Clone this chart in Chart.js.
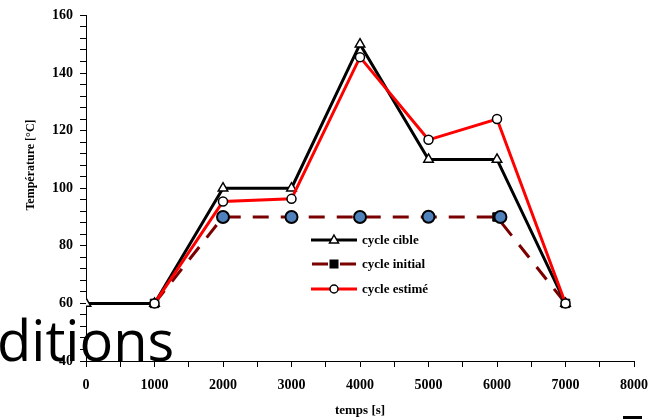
<!DOCTYPE html>
<html>
<head>
<meta charset="utf-8">
<script src="https://cdn.jsdelivr.net/npm/chart.js@4.4.0/dist/chart.umd.min.js"></script>
<style>
  html, body { margin: 0; padding: 0; background: #fff; overflow: hidden; }
  #wrap { position: relative; width: 658px; height: 419px; }
  #overlay { position: absolute; left: -3px; top: 311px; font-family: "Open Sans", sans-serif; font-size: 56px; color: #000; line-height: 1; pointer-events: none; }
  #mark { position: absolute; left: 623px; top: 416px; width: 19px; height: 3px; background: #000; }
</style>
</head>
<body>
<div id="wrap">
  <canvas id="chart" width="658" height="419"></canvas>
  <div id="overlay">ditions</div>
  <div id="mark"></div>
</div>
<script>
// temps [s] for each point of the cycle
const timeCible = [0, 1000, 2000, 3000, 4000, 5000, 6000, 7000];
const tempCible = [60, 60, 100, 100, 150, 110, 110, 60];

const timeInitial = [1000, 2000, 3000, 4000, 5000, 6000, 7000];
const tempInitial = [60, 90, 90, 90, 90, 90, 60];

const timeEstime = [1000, 2000, 3000, 4000, 5000, 6000, 7000];
const tempEstime = [60, 95.4, 96.3, 145.5, 116.8, 124, 60];

// blue dots sitting on the initial cycle plateau
const timeDots = [2000, 3000, 4000, 5000, 6050];
const tempDots = [90, 90, 90, 90.1, 90];

const xTicks = [0, 1000, 2000, 3000, 4000, 5000, 6000, 7000, 8000];
const yTicks = [40, 60, 80, 100, 120, 140, 160];

const legendItems = ['cycle cible', 'cycle initial', 'cycle estimé'];

const pts = (xs, ys) => xs.map((x, i) => ({ x: x, y: ys[i] }));

const serifBold = { family: '"Liberation Serif", "Times New Roman", serif', weight: 'bold', size: 14 };

// legend + axis titles drawn by hand, like the original figure
const extras = {
  id: 'extras',
  afterDraw(chart) {
    const ctx = chart.ctx;
    ctx.save();
    ctx.fillStyle = '#000';
    ctx.font = 'bold 13px "Liberation Serif", serif';
    ctx.textAlign = 'center';
    ctx.textBaseline = 'middle';
    ctx.fillText('temps [s]', 360, 411);
    ctx.translate(31, 165);
    ctx.rotate(-Math.PI / 2);
    ctx.font = 'bold 12px "Liberation Serif", serif';
    ctx.fillText('Température [°C]', 0, 0);
    ctx.restore();

    // legend
    const rows = [240, 264, 289];
    const x0 = 311, x1 = 357;
    ctx.save();
    rows.forEach((y, i) => {
      ctx.beginPath();
      ctx.lineWidth = 3;
      if (i === 0) { ctx.strokeStyle = '#000'; ctx.setLineDash([]); }
      if (i === 1) { ctx.strokeStyle = '#7a0000'; ctx.setLineDash([16, 12]); ctx.lineDashOffset = -1; }
      if (i === 2) { ctx.strokeStyle = '#ff0000'; ctx.setLineDash([]); }
      ctx.moveTo(x0, y);
      ctx.lineTo(x1, y);
      ctx.stroke();
      ctx.setLineDash([]);
      const cx = (x0 + x1) / 2;
      if (i === 0) {
        ctx.beginPath();
        ctx.moveTo(cx, y - 5);
        ctx.lineTo(cx + 4.5, y + 3);
        ctx.lineTo(cx - 4.5, y + 3);
        ctx.closePath();
        ctx.fillStyle = '#fff';
        ctx.fill();
        ctx.lineWidth = 1.5;
        ctx.strokeStyle = '#000';
        ctx.stroke();
      } else if (i === 1) {
        ctx.fillStyle = '#000';
        ctx.fillRect(cx - 4.5, y - 4.5, 9, 9);
      } else {
        ctx.beginPath();
        ctx.arc(cx, y, 4, 0, Math.PI * 2);
        ctx.fillStyle = '#fff';
        ctx.fill();
        ctx.lineWidth = 1.5;
        ctx.strokeStyle = '#000';
        ctx.stroke();
      }
      ctx.fillStyle = '#000';
      ctx.font = 'bold 13px "Liberation Serif", serif';
      ctx.textAlign = 'left';
      ctx.textBaseline = 'middle';
      ctx.fillText(legendItems[i], 362, y + 1);
    });
    ctx.restore();
  }
};

const ctx = document.getElementById('chart').getContext('2d');
new Chart(ctx, {
  type: 'line',
  data: {
    datasets: [
      {
        label: 'points',
        data: pts(timeDots, tempDots),
        showLine: false,
        pointRadius: 6,
        pointBackgroundColor: '#4f81bd',
        pointBorderColor: '#000',
        pointBorderWidth: 2,
        order: 0
      },
      {
        label: legendItems[2],
        data: pts(timeEstime, tempEstime),
        borderColor: '#ff0000',
        borderWidth: 3,
        pointRadius: 4.5,
        pointStyle: 'circle',
        pointBackgroundColor: '#fff',
        pointBorderColor: '#000',
        pointBorderWidth: 1.5,
        order: 1
      },
      {
        label: legendItems[0],
        data: pts(timeCible, tempCible),
        borderColor: '#000',
        borderWidth: 3,
        pointRadius: 5.5,
        pointStyle: 'triangle',
        pointBackgroundColor: '#fff',
        pointBorderColor: '#000',
        pointBorderWidth: 1.5,
        order: 2
      },
      {
        label: legendItems[1],
        data: pts(timeInitial, tempInitial),
        borderColor: '#7a0000',
        borderWidth: 3,
        borderDash: [16, 12],
        pointRadius: 6,
        pointStyle: 'rect',
        pointBackgroundColor: '#000',
        pointBorderColor: '#000',
        pointBorderWidth: 1,
        order: 3
      }
    ]
  },
  options: {
    responsive: false,
    animation: false,
    layout: { padding: { left: 0, right: 24, top: 14, bottom: 0 } },
    plugins: {
      legend: { display: false },
      tooltip: { enabled: false }
    },
    elements: { line: { tension: 0 } },
    scales: {
      x: {
        type: 'linear',
        min: 0,
        max: 8000,
        afterFit: (s) => { s.height = 58; },
        border: { display: true, color: '#000', width: 1 },
        grid: { display: true, drawOnChartArea: false, drawTicks: true, tickLength: 6, color: '#000', tickColor: '#000' },
        afterBuildTicks: (s) => {
          const t = [];
          for (let v = 0; v <= 8000; v += 500) t.push({ value: v });
          s.ticks = t;
        },
        ticks: {
          autoSkip: false,
          maxRotation: 0,
          padding: 10,
          color: '#000',
          font: serifBold,
          callback: (v) => xTicks.includes(v) ? String(v) : ''
        }
      },
      y: {
        min: 40,
        max: 160,
        afterFit: (s) => { s.width = 86; },
        border: { display: true, color: '#000', width: 1 },
        grid: { display: true, drawOnChartArea: false, drawTicks: true, tickLength: 6, color: '#000', tickColor: '#000' },
        afterBuildTicks: (s) => {
          const t = [];
          for (let v = 40; v <= 160; v += 4) t.push({ value: v });
          s.ticks = t;
        },
        ticks: {
          autoSkip: false,
          padding: 7,
          color: '#000',
          font: serifBold,
          callback: (v) => yTicks.includes(v) ? String(v) : ''
        }
      }
    }
  },
  plugins: [extras]
});
</script>
</body>
</html>
